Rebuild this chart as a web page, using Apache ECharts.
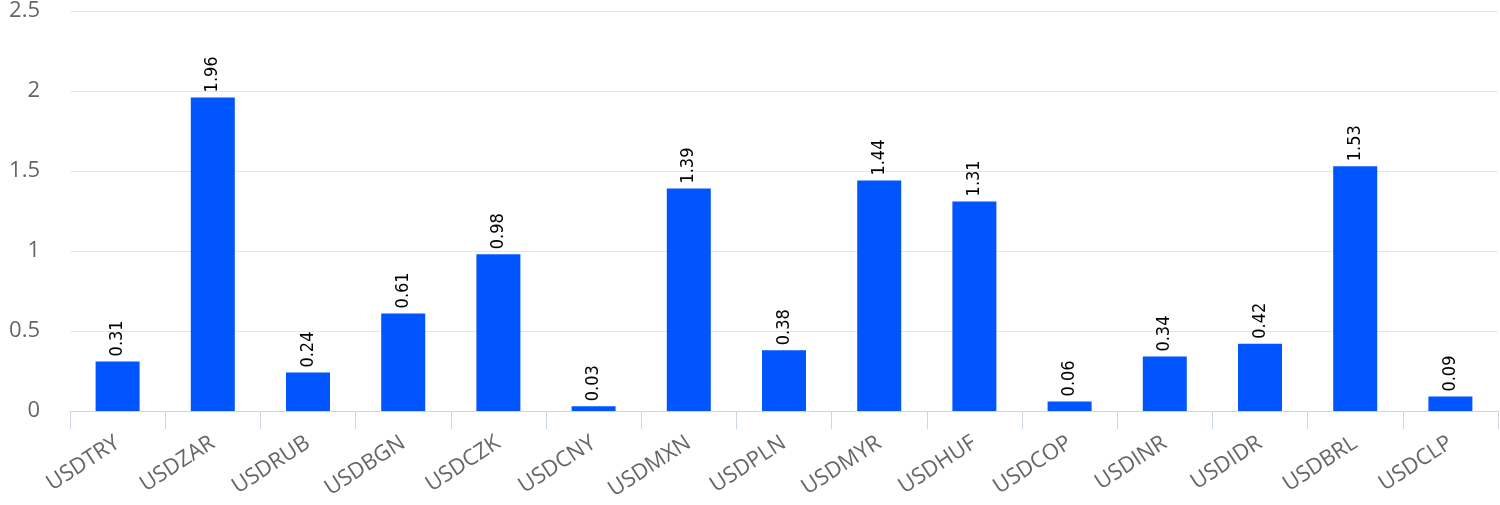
<!DOCTYPE html>
<html>
<head>
<meta charset="utf-8">
<script src="https://cdn.jsdelivr.net/npm/echarts@6/dist/echarts.min.js"></script>
<style>
html,body{margin:0;padding:0;background:#fff;}
#chart{width:1500px;height:505px;}
</style>
</head>
<body>
<div id="chart"></div>
<script>
const categories = ["USDTRY","USDZAR","USDRUB","USDBGN","USDCZK","USDCNY","USDMXN","USDPLN","USDMYR","USDHUF","USDCOP","USDINR","USDIDR","USDBRL","USDCLP"];
const values = [0.31, 1.96, 0.24, 0.61, 0.98, 0.03, 1.39, 0.38, 1.44, 1.31, 0.06, 0.34, 0.42, 1.53, 0.09];
const yTicks = [0, 0.5, 1, 1.5, 2, 2.5];

const chart = echarts.init(document.getElementById('chart'));
chart.setOption({
  animation: false,
  grid: { left: 70, right: 2, top: 11, bottom: 94 },
  xAxis: {
    type: 'category',
    data: categories,
    axisLine: { lineStyle: { color: '#ccd6eb', width: 1 } },
    axisTick: { show: true, length: 18, lineStyle: { color: '#ccd6eb' } },
    axisLabel: {
      rotate: 33,
      margin: 30,
      color: '#666666',
      fontFamily: 'Open Sans',
      fontSize: 22
    }
  },
  yAxis: {
    type: 'value',
    min: yTicks[0],
    max: yTicks[yTicks.length - 1],
    interval: 0.5,
    axisLine: { show: false },
    axisTick: { show: false },
    splitLine: { lineStyle: { color: '#e6e6e6', width: 1 } },
    axisLabel: {
      color: '#666666',
      fontFamily: 'Open Sans',
      fontSize: 22,
      margin: 30
    }
  },
  series: [{
    type: 'bar',
    data: values,
    barWidth: 44,
    itemStyle: { color: '#0055ff' },
    label: {
      show: true,
      position: 'top',
      rotate: 90,
      align: 'left',
      verticalAlign: 'middle',
      distance: 5,
      color: '#000000',
      fontFamily: 'DejaVu Sans Condensed',
      fontSize: 18
    }
  }]
});
</script>
</body>
</html>
